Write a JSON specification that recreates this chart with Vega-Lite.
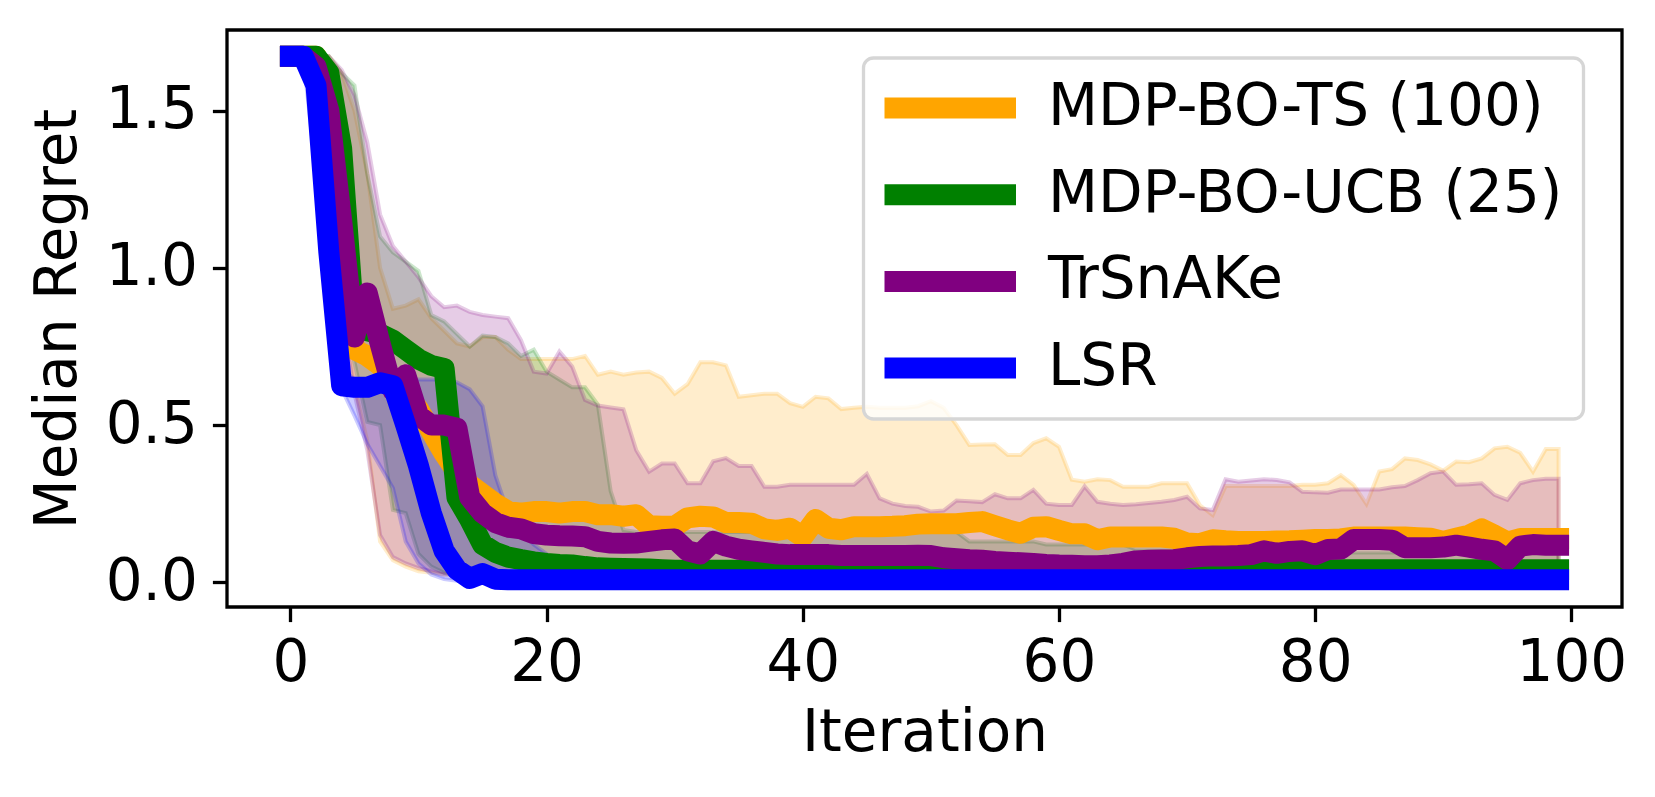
{
  "$schema": "https://vega.github.io/schema/vega-lite/v6.json",
  "width": 1395,
  "height": 577,
  "autosize": {"type": "none"},
  "padding": {"left": 227, "top": 30, "right": 33, "bottom": 190},
  "background": "white",
  "config": {
    "font": "DejaVu Sans",
    "view": {"stroke": "black", "strokeWidth": 3.3},
    "axis": {
      "domain": false,
      "grid": false,
      "ticks": true,
      "tickColor": "black",
      "tickWidth": 3.3,
      "tickSize": 14.6,
      "labelFont": "DejaVu Sans",
      "labelFontSize": 58,
      "labelColor": "black",
      "labelFlush": false,
      "titleFont": "DejaVu Sans",
      "titleFontSize": 58,
      "titleFontWeight": "normal",
      "titleColor": "black"
    },
    "axisX": {"labelPadding": 13, "titlePadding": 12},
    "axisY": {"labelPadding": 15, "titlePadding": 18},
    "legend": {
      "orient": "none",
      "legendX": 636.5,
      "legendY": 28,
      "symbolType": "stroke",
      "symbolSize": 21609,
      "symbolStrokeWidth": 21,
      "symbolOpacity": 1,
      "clipHeight": 58,
      "rowPadding": 28.7,
      "padding": 21,
      "symbolOffset": -26,
      "labelOffset": 21.5,
      "labelFont": "DejaVu Sans",
      "labelFontSize": 58,
      "labelColor": "black",
      "labelLimit": 1000,
      "strokeColor": "#d6d6d6",
      "strokeWidth": 3.3,
      "fillColor": "rgba(255,255,255,0.8)",
      "cornerRadius": 10
    }
  },
  "data": {
    "values": [
      {"i":0,"ts":1.673,"tsl":1.673,"tsh":1.673,"ucb":1.673,"ucbl":1.673,"ucbh":1.673,"trs":1.673,"trsl":1.673,"trsh":1.673,"lsr":1.673,"lsrl":1.673,"lsrh":1.673},
      {"i":1,"ts":1.673,"tsl":1.673,"tsh":1.673,"ucb":1.673,"ucbl":1.673,"ucbh":1.673,"trs":1.673,"trsl":1.673,"trsh":1.673,"lsr":1.673,"lsrl":1.673,"lsrh":1.673},
      {"i":2,"ts":1.673,"tsl":1.673,"tsh":1.673,"ucb":1.673,"ucbl":1.673,"ucbh":1.673,"trs":1.64,"trsl":1.6,"trsh":1.673,"lsr":1.58,"lsrl":1.3,"lsrh":1.673},
      {"i":3,"ts":1.5,"tsl":1.45,"tsh":1.673,"ucb":1.62,"ucbl":1.5,"ucbh":1.673,"trs":1.5,"trsl":1.4,"trsh":1.673,"lsr":1.05,"lsrl":0.8,"lsrh":1.5},
      {"i":4,"ts":1.2,"tsl":0.9,"tsh":1.62,"ucb":1.38,"ucbl":0.95,"ucbh":1.62,"trs":1.15,"trsl":0.85,"trsh":1.63,"lsr":0.625,"lsrl":0.615,"lsrh":0.68},
      {"i":5,"ts":0.74,"tsl":0.62,"tsh":1.5,"ucb":0.81,"ucbl":0.7,"ucbh":1.58,"trs":0.78,"trsl":0.6,"trsh":1.55,"lsr":0.62,"lsrl":0.53,"lsrh":0.645},
      {"i":6,"ts":0.72,"tsl":0.45,"tsh":1.3,"ucb":0.8,"ucbl":0.51,"ucbh":1.3,"trs":0.92,"trsl":0.42,"trsh":1.4,"lsr":0.62,"lsrl":0.44,"lsrh":0.645},
      {"i":7,"ts":0.69,"tsl":0.13,"tsh":1.0,"ucb":0.79,"ucbl":0.5,"ucbh":1.1,"trs":0.76,"trsl":0.15,"trsh":1.17,"lsr":0.635,"lsrl":0.37,"lsrh":0.655},
      {"i":8,"ts":0.64,"tsl":0.07,"tsh":0.87,"ucb":0.77,"ucbl":0.23,"ucbh":1.05,"trs":0.61,"trsl":0.08,"trsh":1.07,"lsr":0.625,"lsrl":0.3,"lsrh":0.65},
      {"i":9,"ts":0.6,"tsl":0.05,"tsh":0.88,"ucb":0.74,"ucbl":0.22,"ucbh":1.02,"trs":0.66,"trsl":0.06,"trsh":1.02,"lsr":0.5,"lsrl":0.13,"lsrh":0.645},
      {"i":10,"ts":0.55,"tsl":0.035,"tsh":0.9,"ucb":0.71,"ucbl":0.09,"ucbh":0.99,"trs":0.53,"trsl":0.045,"trsh":0.97,"lsr":0.37,"lsrl":0.06,"lsrh":0.645},
      {"i":11,"ts":0.48,"tsl":0.03,"tsh":0.84,"ucb":0.69,"ucbl":0.05,"ucbh":0.85,"trs":0.5,"trsl":0.035,"trsh":0.91,"lsr":0.22,"lsrl":0.025,"lsrh":0.645},
      {"i":12,"ts":0.41,"tsl":0.025,"tsh":0.8,"ucb":0.68,"ucbl":0.03,"ucbh":0.83,"trs":0.5,"trsl":0.025,"trsh":0.875,"lsr":0.1,"lsrl":0.01,"lsrh":0.645},
      {"i":13,"ts":0.35,"tsl":0.025,"tsh":0.76,"ucb":0.27,"ucbl":0.022,"ucbh":0.79,"trs":0.49,"trsl":0.025,"trsh":0.88,"lsr":0.04,"lsrl":0.005,"lsrh":0.636},
      {"i":14,"ts":0.31,"tsl":0.025,"tsh":0.75,"ucb":0.2,"ucbl":0.018,"ucbh":0.75,"trs":0.27,"trsl":0.025,"trsh":0.86,"lsr":0.012,"lsrl":0.003,"lsrh":0.614},
      {"i":15,"ts":0.28,"tsl":0.025,"tsh":0.78,"ucb":0.12,"ucbl":0.018,"ucbh":0.785,"trs":0.22,"trsl":0.025,"trsh":0.85,"lsr":0.028,"lsrl":0.003,"lsrh":0.56},
      {"i":16,"ts":0.25,"tsl":0.025,"tsh":0.78,"ucb":0.095,"ucbl":0.018,"ucbh":0.78,"trs":0.19,"trsl":0.025,"trsh":0.845,"lsr":0.01,"lsrl":0.003,"lsrh":0.34},
      {"i":17,"ts":0.225,"tsl":0.025,"tsh":0.74,"ucb":0.08,"ucbl":0.018,"ucbh":0.76,"trs":0.175,"trsl":0.025,"trsh":0.84,"lsr":0.008,"lsrl":0.003,"lsrh":0.22},
      {"i":18,"ts":0.22,"tsl":0.025,"tsh":0.71,"ucb":0.072,"ucbl":0.018,"ucbh":0.72,"trs":0.17,"trsl":0.025,"trsh":0.77,"lsr":0.008,"lsrl":0.003,"lsrh":0.16},
      {"i":19,"ts":0.225,"tsl":0.025,"tsh":0.71,"ucb":0.065,"ucbl":0.018,"ucbh":0.74,"trs":0.155,"trsl":0.025,"trsh":0.67,"lsr":0.008,"lsrl":0.003,"lsrh":0.12},
      {"i":20,"ts":0.225,"tsl":0.025,"tsh":0.71,"ucb":0.06,"ucbl":0.018,"ucbh":0.67,"trs":0.15,"trsl":0.025,"trsh":0.664,"lsr":0.008,"lsrl":0.003,"lsrh":0.09},
      {"i":21,"ts":0.22,"tsl":0.02,"tsh":0.71,"ucb":0.057,"ucbl":0.018,"ucbh":0.645,"trs":0.148,"trsl":0.02,"trsh":0.734,"lsr":0.008,"lsrl":0.003,"lsrh":0.05},
      {"i":22,"ts":0.225,"tsl":0.02,"tsh":0.71,"ucb":0.055,"ucbl":0.018,"ucbh":0.62,"trs":0.147,"trsl":0.02,"trsh":0.686,"lsr":0.008,"lsrl":0.003,"lsrh":0.025},
      {"i":23,"ts":0.225,"tsl":0.02,"tsh":0.72,"ucb":0.05,"ucbl":0.018,"ucbh":0.62,"trs":0.145,"trsl":0.02,"trsh":0.58,"lsr":0.008,"lsrl":0.003,"lsrh":0.015},
      {"i":24,"ts":0.215,"tsl":0.02,"tsh":0.66,"ucb":0.046,"ucbl":0.018,"ucbh":0.565,"trs":0.13,"trsl":0.02,"trsh":0.562,"lsr":0.008,"lsrl":0.003,"lsrh":0.012},
      {"i":25,"ts":0.215,"tsl":0.02,"tsh":0.67,"ucb":0.045,"ucbl":0.018,"ucbh":0.29,"trs":0.125,"trsl":0.02,"trsh":0.556,"lsr":0.008,"lsrl":0.003,"lsrh":0.012},
      {"i":26,"ts":0.21,"tsl":0.02,"tsh":0.66,"ucb":0.044,"ucbl":0.018,"ucbh":0.166,"trs":0.124,"trsl":0.02,"trsh":0.55,"lsr":0.008,"lsrl":0.003,"lsrh":0.012},
      {"i":27,"ts":0.215,"tsl":0.02,"tsh":0.667,"ucb":0.043,"ucbl":0.018,"ucbh":0.16,"trs":0.125,"trsl":0.02,"trsh":0.42,"lsr":0.008,"lsrl":0.003,"lsrh":0.012},
      {"i":28,"ts":0.18,"tsl":0.02,"tsh":0.67,"ucb":0.042,"ucbl":0.018,"ucbh":0.16,"trs":0.13,"trsl":0.02,"trsh":0.352,"lsr":0.008,"lsrl":0.003,"lsrh":0.012},
      {"i":29,"ts":0.178,"tsl":0.02,"tsh":0.65,"ucb":0.04,"ucbl":0.018,"ucbh":0.16,"trs":0.135,"trsl":0.02,"trsh":0.378,"lsr":0.008,"lsrl":0.003,"lsrh":0.012},
      {"i":30,"ts":0.178,"tsl":0.02,"tsh":0.6,"ucb":0.038,"ucbl":0.018,"ucbh":0.16,"trs":0.138,"trsl":0.02,"trsh":0.378,"lsr":0.008,"lsrl":0.003,"lsrh":0.012},
      {"i":31,"ts":0.205,"tsl":0.02,"tsh":0.63,"ucb":0.038,"ucbl":0.015,"ucbh":0.16,"trs":0.1,"trsl":0.02,"trsh":0.315,"lsr":0.008,"lsrl":0.003,"lsrh":0.012},
      {"i":32,"ts":0.21,"tsl":0.02,"tsh":0.7,"ucb":0.038,"ucbl":0.015,"ucbh":0.16,"trs":0.09,"trsl":0.02,"trsh":0.315,"lsr":0.008,"lsrl":0.003,"lsrh":0.012},
      {"i":33,"ts":0.208,"tsl":0.02,"tsh":0.7,"ucb":0.038,"ucbl":0.015,"ucbh":0.16,"trs":0.13,"trsl":0.02,"trsh":0.385,"lsr":0.008,"lsrl":0.003,"lsrh":0.012},
      {"i":34,"ts":0.19,"tsl":0.02,"tsh":0.69,"ucb":0.038,"ucbl":0.015,"ucbh":0.16,"trs":0.115,"trsl":0.02,"trsh":0.395,"lsr":0.008,"lsrl":0.003,"lsrh":0.012},
      {"i":35,"ts":0.19,"tsl":0.02,"tsh":0.59,"ucb":0.038,"ucbl":0.015,"ucbh":0.16,"trs":0.105,"trsl":0.02,"trsh":0.37,"lsr":0.008,"lsrl":0.003,"lsrh":0.012},
      {"i":36,"ts":0.188,"tsl":0.02,"tsh":0.595,"ucb":0.038,"ucbl":0.015,"ucbh":0.16,"trs":0.1,"trsl":0.02,"trsh":0.37,"lsr":0.008,"lsrl":0.003,"lsrh":0.012},
      {"i":37,"ts":0.17,"tsl":0.02,"tsh":0.6,"ucb":0.038,"ucbl":0.015,"ucbh":0.16,"trs":0.095,"trsl":0.02,"trsh":0.304,"lsr":0.008,"lsrl":0.003,"lsrh":0.012},
      {"i":38,"ts":0.165,"tsl":0.02,"tsh":0.6,"ucb":0.038,"ucbl":0.015,"ucbh":0.16,"trs":0.09,"trsl":0.02,"trsh":0.304,"lsr":0.008,"lsrl":0.003,"lsrh":0.012},
      {"i":39,"ts":0.172,"tsl":0.02,"tsh":0.57,"ucb":0.038,"ucbl":0.015,"ucbh":0.16,"trs":0.088,"trsl":0.02,"trsh":0.31,"lsr":0.008,"lsrl":0.003,"lsrh":0.012},
      {"i":40,"ts":0.145,"tsl":0.02,"tsh":0.558,"ucb":0.038,"ucbl":0.015,"ucbh":0.16,"trs":0.088,"trsl":0.02,"trsh":0.31,"lsr":0.008,"lsrl":0.003,"lsrh":0.012},
      {"i":41,"ts":0.2,"tsl":0.02,"tsh":0.59,"ucb":0.04,"ucbl":0.015,"ucbh":0.16,"trs":0.088,"trsl":0.02,"trsh":0.31,"lsr":0.008,"lsrl":0.003,"lsrh":0.012},
      {"i":42,"ts":0.172,"tsl":0.02,"tsh":0.585,"ucb":0.04,"ucbl":0.015,"ucbh":0.16,"trs":0.088,"trsl":0.02,"trsh":0.31,"lsr":0.008,"lsrl":0.003,"lsrh":0.012},
      {"i":43,"ts":0.167,"tsl":0.02,"tsh":0.551,"ucb":0.04,"ucbl":0.015,"ucbh":0.16,"trs":0.085,"trsl":0.02,"trsh":0.31,"lsr":0.008,"lsrl":0.003,"lsrh":0.012},
      {"i":44,"ts":0.177,"tsl":0.02,"tsh":0.555,"ucb":0.04,"ucbl":0.015,"ucbh":0.16,"trs":0.085,"trsl":0.02,"trsh":0.31,"lsr":0.008,"lsrl":0.003,"lsrh":0.012},
      {"i":45,"ts":0.177,"tsl":0.02,"tsh":0.558,"ucb":0.04,"ucbl":0.015,"ucbh":0.16,"trs":0.085,"trsl":0.02,"trsh":0.345,"lsr":0.008,"lsrl":0.003,"lsrh":0.012},
      {"i":46,"ts":0.177,"tsl":0.02,"tsh":0.555,"ucb":0.04,"ucbl":0.015,"ucbh":0.16,"trs":0.085,"trsl":0.02,"trsh":0.267,"lsr":0.008,"lsrl":0.003,"lsrh":0.012},
      {"i":47,"ts":0.178,"tsl":0.02,"tsh":0.555,"ucb":0.04,"ucbl":0.015,"ucbh":0.16,"trs":0.085,"trsl":0.02,"trsh":0.25,"lsr":0.008,"lsrl":0.003,"lsrh":0.012},
      {"i":48,"ts":0.18,"tsl":0.02,"tsh":0.555,"ucb":0.04,"ucbl":0.015,"ucbh":0.16,"trs":0.085,"trsl":0.02,"trsh":0.243,"lsr":0.008,"lsrl":0.003,"lsrh":0.012},
      {"i":49,"ts":0.185,"tsl":0.02,"tsh":0.56,"ucb":0.04,"ucbl":0.015,"ucbh":0.16,"trs":0.086,"trsl":0.02,"trsh":0.24,"lsr":0.008,"lsrl":0.003,"lsrh":0.012},
      {"i":50,"ts":0.186,"tsl":0.02,"tsh":0.576,"ucb":0.04,"ucbl":0.015,"ucbh":0.16,"trs":0.085,"trsl":0.02,"trsh":0.225,"lsr":0.008,"lsrl":0.003,"lsrh":0.012},
      {"i":51,"ts":0.186,"tsl":0.02,"tsh":0.555,"ucb":0.04,"ucbl":0.015,"ucbh":0.16,"trs":0.078,"trsl":0.02,"trsh":0.228,"lsr":0.008,"lsrl":0.003,"lsrh":0.012},
      {"i":52,"ts":0.186,"tsl":0.02,"tsh":0.5,"ucb":0.04,"ucbl":0.015,"ucbh":0.16,"trs":0.075,"trsl":0.02,"trsh":0.26,"lsr":0.008,"lsrl":0.003,"lsrh":0.012},
      {"i":53,"ts":0.19,"tsl":0.02,"tsh":0.437,"ucb":0.04,"ucbl":0.015,"ucbh":0.13,"trs":0.072,"trsl":0.02,"trsh":0.258,"lsr":0.008,"lsrl":0.003,"lsrh":0.012},
      {"i":54,"ts":0.193,"tsl":0.02,"tsh":0.438,"ucb":0.04,"ucbl":0.015,"ucbh":0.13,"trs":0.07,"trsl":0.02,"trsh":0.255,"lsr":0.008,"lsrl":0.003,"lsrh":0.012},
      {"i":55,"ts":0.18,"tsl":0.02,"tsh":0.439,"ucb":0.04,"ucbl":0.015,"ucbh":0.13,"trs":0.066,"trsl":0.02,"trsh":0.28,"lsr":0.008,"lsrl":0.003,"lsrh":0.012},
      {"i":56,"ts":0.167,"tsl":0.02,"tsh":0.405,"ucb":0.04,"ucbl":0.015,"ucbh":0.13,"trs":0.064,"trsl":0.02,"trsh":0.267,"lsr":0.008,"lsrl":0.003,"lsrh":0.012},
      {"i":57,"ts":0.156,"tsl":0.02,"tsh":0.405,"ucb":0.04,"ucbl":0.015,"ucbh":0.13,"trs":0.062,"trsl":0.02,"trsh":0.267,"lsr":0.008,"lsrl":0.003,"lsrh":0.012},
      {"i":58,"ts":0.175,"tsl":0.02,"tsh":0.443,"ucb":0.04,"ucbl":0.015,"ucbh":0.13,"trs":0.06,"trsl":0.02,"trsh":0.294,"lsr":0.008,"lsrl":0.003,"lsrh":0.012},
      {"i":59,"ts":0.177,"tsl":0.02,"tsh":0.458,"ucb":0.04,"ucbl":0.015,"ucbh":0.12,"trs":0.057,"trsl":0.02,"trsh":0.25,"lsr":0.008,"lsrl":0.003,"lsrh":0.012},
      {"i":60,"ts":0.165,"tsl":0.02,"tsh":0.431,"ucb":0.04,"ucbl":0.015,"ucbh":0.12,"trs":0.055,"trsl":0.02,"trsh":0.246,"lsr":0.008,"lsrl":0.003,"lsrh":0.012},
      {"i":61,"ts":0.154,"tsl":0.02,"tsh":0.326,"ucb":0.04,"ucbl":0.015,"ucbh":0.12,"trs":0.054,"trsl":0.02,"trsh":0.246,"lsr":0.008,"lsrl":0.003,"lsrh":0.012},
      {"i":62,"ts":0.154,"tsl":0.02,"tsh":0.32,"ucb":0.04,"ucbl":0.015,"ucbh":0.12,"trs":0.053,"trsl":0.02,"trsh":0.305,"lsr":0.008,"lsrl":0.003,"lsrh":0.012},
      {"i":63,"ts":0.135,"tsl":0.02,"tsh":0.328,"ucb":0.04,"ucbl":0.015,"ucbh":0.12,"trs":0.053,"trsl":0.02,"trsh":0.256,"lsr":0.008,"lsrl":0.003,"lsrh":0.012},
      {"i":64,"ts":0.144,"tsl":0.02,"tsh":0.325,"ucb":0.04,"ucbl":0.015,"ucbh":0.12,"trs":0.055,"trsl":0.02,"trsh":0.25,"lsr":0.008,"lsrl":0.003,"lsrh":0.012},
      {"i":65,"ts":0.144,"tsl":0.02,"tsh":0.304,"ucb":0.04,"ucbl":0.015,"ucbh":0.12,"trs":0.06,"trsl":0.02,"trsh":0.246,"lsr":0.008,"lsrl":0.003,"lsrh":0.012},
      {"i":66,"ts":0.144,"tsl":0.02,"tsh":0.304,"ucb":0.04,"ucbl":0.015,"ucbh":0.105,"trs":0.068,"trsl":0.02,"trsh":0.248,"lsr":0.008,"lsrl":0.003,"lsrh":0.012},
      {"i":67,"ts":0.144,"tsl":0.02,"tsh":0.304,"ucb":0.04,"ucbl":0.015,"ucbh":0.105,"trs":0.07,"trsl":0.02,"trsh":0.252,"lsr":0.008,"lsrl":0.003,"lsrh":0.012},
      {"i":68,"ts":0.144,"tsl":0.02,"tsh":0.315,"ucb":0.04,"ucbl":0.015,"ucbh":0.105,"trs":0.071,"trsl":0.02,"trsh":0.256,"lsr":0.008,"lsrl":0.003,"lsrh":0.012},
      {"i":69,"ts":0.14,"tsl":0.02,"tsh":0.315,"ucb":0.04,"ucbl":0.015,"ucbh":0.105,"trs":0.072,"trsl":0.02,"trsh":0.262,"lsr":0.008,"lsrl":0.003,"lsrh":0.012},
      {"i":70,"ts":0.125,"tsl":0.02,"tsh":0.315,"ucb":0.04,"ucbl":0.015,"ucbh":0.105,"trs":0.078,"trsl":0.02,"trsh":0.272,"lsr":0.008,"lsrl":0.003,"lsrh":0.012},
      {"i":71,"ts":0.123,"tsl":0.02,"tsh":0.245,"ucb":0.04,"ucbl":0.015,"ucbh":0.105,"trs":0.082,"trsl":0.02,"trsh":0.235,"lsr":0.008,"lsrl":0.003,"lsrh":0.012},
      {"i":72,"ts":0.135,"tsl":0.02,"tsh":0.214,"ucb":0.04,"ucbl":0.015,"ucbh":0.105,"trs":0.084,"trsl":0.02,"trsh":0.23,"lsr":0.008,"lsrl":0.003,"lsrh":0.012},
      {"i":73,"ts":0.132,"tsl":0.02,"tsh":0.306,"ucb":0.04,"ucbl":0.015,"ucbh":0.105,"trs":0.084,"trsl":0.02,"trsh":0.328,"lsr":0.008,"lsrl":0.003,"lsrh":0.012},
      {"i":74,"ts":0.13,"tsl":0.02,"tsh":0.306,"ucb":0.042,"ucbl":0.015,"ucbh":0.105,"trs":0.085,"trsl":0.02,"trsh":0.32,"lsr":0.008,"lsrl":0.003,"lsrh":0.012},
      {"i":75,"ts":0.13,"tsl":0.02,"tsh":0.306,"ucb":0.044,"ucbl":0.015,"ucbh":0.105,"trs":0.088,"trsl":0.02,"trsh":0.324,"lsr":0.008,"lsrl":0.003,"lsrh":0.012},
      {"i":76,"ts":0.13,"tsl":0.02,"tsh":0.306,"ucb":0.042,"ucbl":0.015,"ucbh":0.105,"trs":0.1,"trsl":0.02,"trsh":0.328,"lsr":0.008,"lsrl":0.003,"lsrh":0.012},
      {"i":77,"ts":0.131,"tsl":0.02,"tsh":0.306,"ucb":0.04,"ucbl":0.015,"ucbh":0.105,"trs":0.092,"trsl":0.02,"trsh":0.325,"lsr":0.008,"lsrl":0.003,"lsrh":0.012},
      {"i":78,"ts":0.132,"tsl":0.02,"tsh":0.306,"ucb":0.04,"ucbl":0.015,"ucbh":0.105,"trs":0.098,"trsl":0.02,"trsh":0.318,"lsr":0.008,"lsrl":0.003,"lsrh":0.012},
      {"i":79,"ts":0.134,"tsl":0.02,"tsh":0.31,"ucb":0.04,"ucbl":0.015,"ucbh":0.105,"trs":0.1,"trsl":0.02,"trsh":0.288,"lsr":0.008,"lsrl":0.003,"lsrh":0.012},
      {"i":80,"ts":0.136,"tsl":0.02,"tsh":0.31,"ucb":0.04,"ucbl":0.015,"ucbh":0.105,"trs":0.088,"trsl":0.02,"trsh":0.286,"lsr":0.008,"lsrl":0.003,"lsrh":0.012},
      {"i":81,"ts":0.136,"tsl":0.02,"tsh":0.315,"ucb":0.04,"ucbl":0.015,"ucbh":0.095,"trs":0.104,"trsl":0.02,"trsh":0.285,"lsr":0.008,"lsrl":0.003,"lsrh":0.012},
      {"i":82,"ts":0.138,"tsl":0.02,"tsh":0.341,"ucb":0.04,"ucbl":0.015,"ucbh":0.095,"trs":0.106,"trsl":0.02,"trsh":0.295,"lsr":0.008,"lsrl":0.003,"lsrh":0.012},
      {"i":83,"ts":0.144,"tsl":0.02,"tsh":0.31,"ucb":0.04,"ucbl":0.015,"ucbh":0.095,"trs":0.136,"trsl":0.02,"trsh":0.295,"lsr":0.008,"lsrl":0.003,"lsrh":0.012},
      {"i":84,"ts":0.144,"tsl":0.02,"tsh":0.249,"ucb":0.04,"ucbl":0.015,"ucbh":0.095,"trs":0.136,"trsl":0.02,"trsh":0.295,"lsr":0.008,"lsrl":0.003,"lsrh":0.012},
      {"i":85,"ts":0.144,"tsl":0.02,"tsh":0.352,"ucb":0.04,"ucbl":0.015,"ucbh":0.095,"trs":0.136,"trsl":0.02,"trsh":0.295,"lsr":0.008,"lsrl":0.003,"lsrh":0.012},
      {"i":86,"ts":0.144,"tsl":0.02,"tsh":0.36,"ucb":0.04,"ucbl":0.015,"ucbh":0.095,"trs":0.134,"trsl":0.02,"trsh":0.302,"lsr":0.008,"lsrl":0.003,"lsrh":0.012},
      {"i":87,"ts":0.144,"tsl":0.02,"tsh":0.394,"ucb":0.04,"ucbl":0.015,"ucbh":0.095,"trs":0.11,"trsl":0.02,"trsh":0.306,"lsr":0.008,"lsrl":0.003,"lsrh":0.012},
      {"i":88,"ts":0.142,"tsl":0.02,"tsh":0.389,"ucb":0.04,"ucbl":0.015,"ucbh":0.095,"trs":0.11,"trsl":0.02,"trsh":0.325,"lsr":0.008,"lsrl":0.003,"lsrh":0.012},
      {"i":89,"ts":0.14,"tsl":0.02,"tsh":0.375,"ucb":0.04,"ucbl":0.015,"ucbh":0.095,"trs":0.11,"trsl":0.02,"trsh":0.347,"lsr":0.008,"lsrl":0.003,"lsrh":0.012},
      {"i":90,"ts":0.13,"tsl":0.02,"tsh":0.355,"ucb":0.04,"ucbl":0.015,"ucbh":0.095,"trs":0.112,"trsl":0.02,"trsh":0.352,"lsr":0.008,"lsrl":0.003,"lsrh":0.012},
      {"i":91,"ts":0.14,"tsl":0.02,"tsh":0.384,"ucb":0.04,"ucbl":0.015,"ucbh":0.095,"trs":0.118,"trsl":0.02,"trsh":0.31,"lsr":0.008,"lsrl":0.003,"lsrh":0.012},
      {"i":92,"ts":0.15,"tsl":0.02,"tsh":0.382,"ucb":0.04,"ucbl":0.015,"ucbh":0.095,"trs":0.112,"trsl":0.02,"trsh":0.312,"lsr":0.008,"lsrl":0.003,"lsrh":0.012},
      {"i":93,"ts":0.17,"tsl":0.02,"tsh":0.394,"ucb":0.04,"ucbl":0.015,"ucbh":0.095,"trs":0.105,"trsl":0.02,"trsh":0.315,"lsr":0.008,"lsrl":0.003,"lsrh":0.012},
      {"i":94,"ts":0.15,"tsl":0.02,"tsh":0.426,"ucb":0.04,"ucbl":0.015,"ucbh":0.095,"trs":0.1,"trsl":0.02,"trsh":0.278,"lsr":0.008,"lsrl":0.003,"lsrh":0.012},
      {"i":95,"ts":0.128,"tsl":0.02,"tsh":0.431,"ucb":0.04,"ucbl":0.015,"ucbh":0.095,"trs":0.072,"trsl":0.02,"trsh":0.262,"lsr":0.008,"lsrl":0.003,"lsrh":0.012},
      {"i":96,"ts":0.139,"tsl":0.02,"tsh":0.412,"ucb":0.04,"ucbl":0.015,"ucbh":0.095,"trs":0.115,"trsl":0.02,"trsh":0.315,"lsr":0.008,"lsrl":0.003,"lsrh":0.012},
      {"i":97,"ts":0.139,"tsl":0.02,"tsh":0.352,"ucb":0.04,"ucbl":0.015,"ucbh":0.095,"trs":0.12,"trsl":0.02,"trsh":0.325,"lsr":0.008,"lsrl":0.003,"lsrh":0.012},
      {"i":98,"ts":0.139,"tsl":0.02,"tsh":0.424,"ucb":0.04,"ucbl":0.015,"ucbh":0.095,"trs":0.118,"trsl":0.02,"trsh":0.329,"lsr":0.008,"lsrl":0.003,"lsrh":0.012},
      {"i":99,"ts":0.139,"tsl":0.02,"tsh":0.424,"ucb":0.04,"ucbl":0.015,"ucbh":0.095,"trs":0.118,"trsl":0.02,"trsh":0.329,"lsr":0.008,"lsrl":0.003,"lsrh":0.012}
    ]
  },
  "encoding": {
    "x": {
      "field": "i",
      "type": "quantitative",
      "title": "Iteration",
      "scale": {"domain": [-4.95, 103.95], "nice": false, "zero": false},
      "axis": {"values": [0, 20, 40, 60, 80, 100], "format": "d"}
    }
  },
  "layer": [
    {
      "mark": {"type": "area", "fill": "#FFA500", "fillOpacity": 0.2, "stroke": "#FFA500", "strokeOpacity": 0.2, "strokeWidth": 4},
      "encoding": {
        "y": {
          "field": "tsl",
          "type": "quantitative",
          "title": "Median Regret",
          "scale": {"domain": [-0.0786, 1.7567], "nice": false, "zero": false},
          "axis": {"values": [0, 0.5, 1.0, 1.5], "format": ".1f"}
        },
        "y2": {"field": "tsh"}
      }
    },
    {
      "mark": {"type": "area", "fill": "#008000", "fillOpacity": 0.2, "stroke": "#008000", "strokeOpacity": 0.2, "strokeWidth": 4},
      "encoding": {
        "y": {"field": "ucbl", "type": "quantitative", "title": "Median Regret"},
        "y2": {"field": "ucbh"}
      }
    },
    {
      "mark": {"type": "area", "fill": "#800080", "fillOpacity": 0.2, "stroke": "#800080", "strokeOpacity": 0.2, "strokeWidth": 4},
      "encoding": {
        "y": {"field": "trsl", "type": "quantitative", "title": "Median Regret"},
        "y2": {"field": "trsh"}
      }
    },
    {
      "mark": {"type": "area", "fill": "#0000FF", "fillOpacity": 0.2, "stroke": "#0000FF", "strokeOpacity": 0.2, "strokeWidth": 4},
      "encoding": {
        "y": {"field": "lsrl", "type": "quantitative", "title": "Median Regret"},
        "y2": {"field": "lsrh"}
      }
    },
    {
      "mark": {"type": "line", "strokeWidth": 21, "strokeCap": "square", "strokeJoin": "round"},
      "encoding": {
        "y": {"field": "ts", "type": "quantitative", "title": "Median Regret"},
        "color": {
          "datum": "MDP-BO-TS (100)",
          "scale": {
            "domain": ["MDP-BO-TS (100)", "MDP-BO-UCB (25)", "TrSnAKe", "LSR"],
            "range": ["#FFA500", "#008000", "#800080", "#0000FF"]
          },
          "legend": {"title": null}
        }
      }
    },
    {
      "mark": {"type": "line", "strokeWidth": 21, "strokeCap": "square", "strokeJoin": "round"},
      "encoding": {
        "y": {"field": "ucb", "type": "quantitative", "title": "Median Regret"},
        "color": {"datum": "MDP-BO-UCB (25)"}
      }
    },
    {
      "mark": {"type": "line", "strokeWidth": 21, "strokeCap": "square", "strokeJoin": "round"},
      "encoding": {
        "y": {"field": "trs", "type": "quantitative", "title": "Median Regret"},
        "color": {"datum": "TrSnAKe"}
      }
    },
    {
      "mark": {"type": "line", "strokeWidth": 21, "strokeCap": "square", "strokeJoin": "round"},
      "encoding": {
        "y": {"field": "lsr", "type": "quantitative", "title": "Median Regret"},
        "color": {"datum": "LSR"}
      }
    }
  ]
}
